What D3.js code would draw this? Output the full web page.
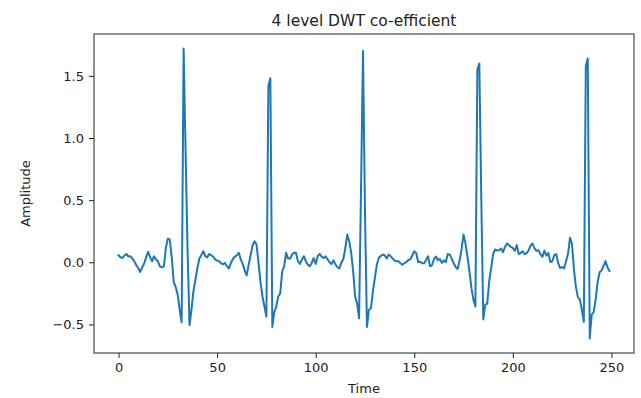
<!DOCTYPE html>
<html>
<head>
<meta charset="utf-8">
<script src="https://cdn.jsdelivr.net/npm/d3@7"></script>
<style>
  body { margin: 0; background: #fff; }
  text { font-family: "DejaVu Sans", sans-serif; fill: #222; }
</style>
</head>
<body>
<div class="chart-container"></div>
<script>
// DWT coefficients, one value per sample
const amplitude = [
  0.057, 0.04, 0.035, 0.055, 0.067, 0.046, 0.049, 0.03, 0.008, -0.024,
  -0.046, -0.078, -0.04, -0.01, 0.04, 0.084, 0.044, 0.008, 0.049, 0.022,
  0.008, -0.032, -0.04, -0.032, 0.117, 0.19, 0.184, 0.035, -0.16, -0.2,
  -0.26, -0.38, -0.483, 1.72, 0.9, 0.1, -0.505, -0.38, -0.23, -0.14,
  -0.046, 0.03, 0.057, 0.089, 0.049, 0.04, 0.067, 0.057, 0.046, 0.024,
  0.014, 0.008, -0.008, -0.016, -0.005, -0.032, -0.05, -0.005, 0.027, 0.046,
  0.057, 0.076, 0.022, -0.013, -0.067, -0.105, -0.019, 0.057, 0.138, 0.17,
  0.143, -0.005, -0.16, -0.275, -0.356, -0.437, 1.42, 1.48, -0.52, -0.4,
  -0.356, -0.275, -0.25, -0.075, -0.032, 0.076, 0.03, 0.03, 0.062, 0.076,
  0.076, 0.008, -0.013, 0.022, 0.049, 0.008, -0.019, -0.032, -0.005, 0.035,
  -0.013, 0.049, 0.067, 0.046, 0.035, 0.049, 0.024, 0, -0.013, 0.016,
  -0.016, -0.04, -0.05, -0.003, 0.027, 0.111, 0.224, 0.17, 0.076, -0.073,
  -0.275, -0.33, -0.451, 0.6, 1.7, 0.4, -0.52, -0.383, -0.37, -0.235,
  -0.127, -0.019, 0.035, 0.051, 0.062, 0.057, 0.03, 0.062, 0.049, 0.03,
  0.014, 0.008, 0.008, -0.008, -0.019, -0.008, 0.003, 0.019, 0.024, 0.057,
  0.089, 0.073, 0, 0.005, -0.008, -0.008, 0.019, 0.049, -0.032, -0.024,
  0.027, 0.046, 0.016, 0.027, -0.005, 0.016, 0, 0.067, 0.062, 0.03,
  -0.008, -0.038, -0.054, 0.014, 0.108, 0.224, 0.149, 0.041, -0.075, -0.208,
  -0.302, -0.356, 1.55, 1.6, 0.5, -0.46, -0.343, -0.332, -0.154, -0.046,
  0.067, 0.103, 0.095, 0.097, 0.111, 0.081, 0.124, 0.151, 0.138, 0.124,
  0.114, 0.092, 0.138, 0.065, 0.076, 0.089, 0.065, 0.073, 0.097, 0.135,
  0.151, 0.111, 0.092, 0.097, 0.065, 0.043, 0.095, 0.054, 0.076, 0.003,
  0.008, 0.057, 0.067, -0.005, -0.046, -0.038, -0.05, 0.008, 0.07, 0.197,
  0.149, -0.06, -0.2, -0.28, -0.3, -0.38, -0.48, 1.58, 1.64, -0.613,
  -0.42, -0.4, -0.3, -0.16, -0.08, -0.065, -0.03, 0.01, -0.04, -0.07
];
const xTicks = [0, 50, 100, 150, 200, 250];
const yTicks = [-0.5, 0, 0.5, 1, 1.5];

const titleText = "4 level DWT co-efficient";
const xLabel = "Time";
const yLabel = "Amplitude";

const width = 641;
const height = 398;
const margin = { top: 34, right: 7, bottom: 45, left: 94 };
const innerW = width - margin.left - margin.right;
const innerH = height - margin.top - margin.bottom;

// matplotlib style 5% padding on both axes
const n = amplitude.length - 1;
const [yMin, yMax] = d3.extent(amplitude);
const yPad = (yMax - yMin) * 0.05;

const x = d3
  .scaleLinear()
  .domain([-n * 0.05, n * 1.05])
  .range([0, innerW]);

const y = d3
  .scaleLinear()
  .domain([yMin - yPad, yMax + yPad])
  .range([innerH, 0]);

const svg = d3
  .select(".chart-container")
  .append("svg")
  .attr("width", width)
  .attr("height", height);

const g = svg
  .append("g")
  .attr("transform", `translate(${margin.left},${margin.top})`);

const line = d3
  .line()
  .x((d, i) => x(i))
  .y((d) => y(d));

g.append("path")
  .datum(amplitude)
  .attr("fill", "none")
  .attr("stroke", "#1f77b4")
  .attr("stroke-width", 2)
  .attr("stroke-linejoin", "round")
  .attr("stroke-linecap", "square")
  .attr("d", line);

const xAxis = g
  .append("g")
  .attr("transform", `translate(0,${innerH})`)
  .call(d3.axisBottom(x).tickValues(xTicks).tickSize(5).tickPadding(5).tickSizeOuter(0));

const yAxis = g
  .append("g")
  .call(
    d3
      .axisLeft(y)
      .tickValues(yTicks)
      .tickFormat(d3.format(".1f"))
      .tickSize(5)
      .tickPadding(5)
      .tickSizeOuter(0)
  );

[xAxis, yAxis].forEach((a) => {
  a.select(".domain").remove();
  a.selectAll(".tick line").attr("stroke", "#222").attr("stroke-width", 1);
  a.selectAll(".tick text")
    .style("font-size", "13px")
    .style("font-family", "DejaVu Sans, sans-serif")
    .attr("fill", "#222");
});

// axes frame
g.append("rect")
  .attr("width", innerW)
  .attr("height", innerH)
  .attr("fill", "none")
  .attr("stroke", "#222")
  .attr("stroke-width", 1);

svg
  .append("text")
  .attr("x", margin.left + innerW / 2)
  .attr("y", 26)
  .attr("text-anchor", "middle")
  .style("font-size", "15.5px")
  .text(titleText);

svg
  .append("text")
  .attr("x", margin.left + innerW / 2)
  .attr("y", 393)
  .attr("text-anchor", "middle")
  .style("font-size", "13px")
  .text(xLabel);

svg
  .append("text")
  .attr("transform", `translate(30,${margin.top + innerH / 2}) rotate(-90)`)
  .attr("text-anchor", "middle")
  .style("font-size", "13px")
  .text(yLabel);
</script>
</body>
</html>
